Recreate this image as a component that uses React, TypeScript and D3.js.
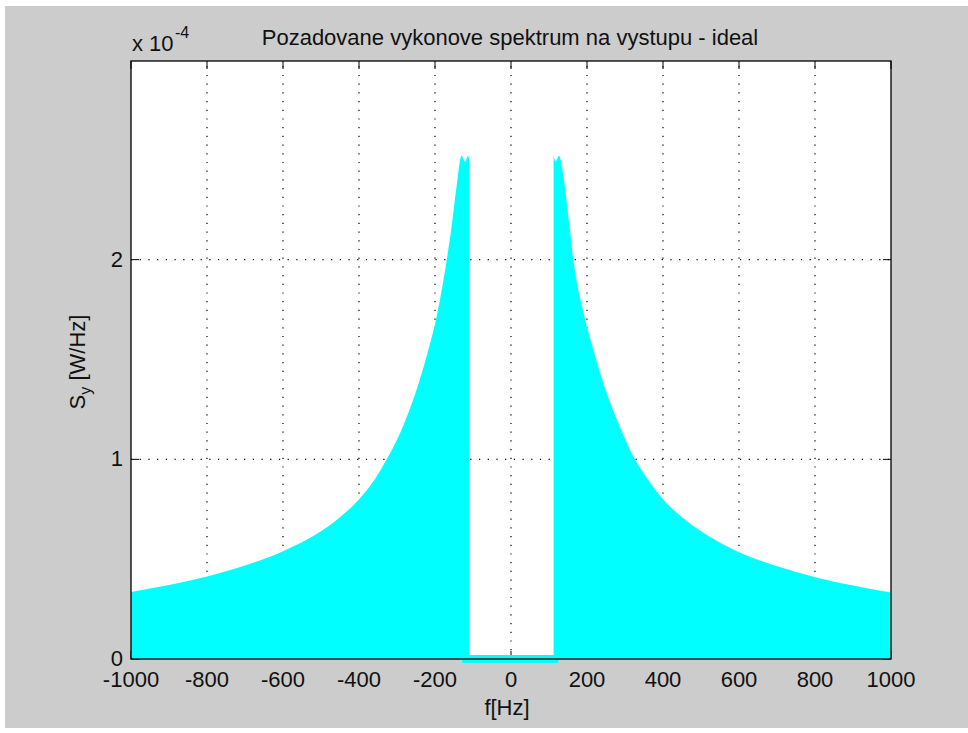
import React from 'react';
import * as d3 from 'd3';

// spectrum (values in units of 1e-4 W/Hz)
const fLeft = [-1000, -900, -800, -700, -600, -500, -450, -400, -360, -330, -290, -250, -220, -195, -169, -156, -143, -130, -121, -113, -110];
const sLeft = [0.336, 0.37, 0.413, 0.468, 0.54, 0.64, 0.71, 0.8, 0.895, 0.99, 1.14, 1.34, 1.53, 1.72, 2.0, 2.17, 2.37, 2.52, 2.49, 2.52, 2.5];
const fRight = [112, 118, 126, 140, 152, 164, 190, 215, 245, 285, 326, 360, 400, 450, 500, 600, 700, 800, 900, 1000];
const sRight = [2.52, 2.49, 2.52, 2.39, 2.2, 2.0, 1.74, 1.56, 1.37, 1.17, 1.0, 0.9, 0.8, 0.71, 0.64, 0.535, 0.465, 0.41, 0.368, 0.333];
// thin band around zero in the stop band
const stripF = [-129, 124];
const stripS = [-0.02, 0.02];

const xTicks = [-1000, -800, -600, -400, -200, 0, 200, 400, 600, 800, 1000];
const yTicks = [0, 1, 2];
const yMax = 2.995;

const title = 'Pozadovane vykonove spektrum na vystupu - ideal';
const xLabel = 'f[Hz]';

const W = 968;
const H = 733;
const plot = { left: 131, right: 891, top: 61, bottom: 659 };
const font = '"Liberation Sans", Arial, sans-serif';

const App = () => {
  const x = d3.scaleLinear().domain([-1000, 1000]).range([plot.left, plot.right]);
  const y = d3.scaleLinear().domain([0, yMax]).range([plot.bottom, plot.top]);

  const area = d3
    .area<[number, number]>()
    .x(d => x(d[0]))
    .y0(y(0))
    .y1(d => y(d[1]))
    .curve(d3.curveMonotoneX);

  const left: [number, number][] = fLeft.map((f, i) => [f, sLeft[i]]);
  const right: [number, number][] = fRight.map((f, i) => [f, sRight[i]]);

  const tick = 8;

  return (
    <div style={{ position: 'fixed', left: 0, top: 0 }}>
      <svg width={W} height={H} style={{ display: 'block' }}>
        <rect x={0} y={0} width={W} height={H} fill="#ffffff" />
        <rect x={5} y={6} width={W - 5} height={H - 11} fill="#cccccc" />

        {/* axes area */}
        <rect x={plot.left} y={plot.top} width={plot.right - plot.left} height={plot.bottom - plot.top} fill="#ffffff" />

        {/* grid, under the data */}
        <g stroke="#000" strokeWidth={1.2} strokeDasharray="1.2 7.5">
          {xTicks.slice(1, -1).map(t => (
            <line key={'gx' + t} x1={x(t)} x2={x(t)} y1={plot.bottom} y2={plot.top} />
          ))}
          {yTicks.slice(1).map(t => (
            <line key={'gy' + t} x1={plot.left} x2={plot.right} y1={y(t)} y2={y(t)} />
          ))}
        </g>

        {/* ticks */}
        <g stroke="#000" strokeWidth={1}>
          {xTicks.map(t => (
            <g key={'tx' + t}>
              <line x1={x(t)} x2={x(t)} y1={plot.bottom} y2={plot.bottom - tick} />
              <line x1={x(t)} x2={x(t)} y1={plot.top} y2={plot.top + tick} />
            </g>
          ))}
          {yTicks.map(t => (
            <g key={'ty' + t}>
              <line x1={plot.left} x2={plot.left + tick} y1={y(t)} y2={y(t)} />
              <line x1={plot.right} x2={plot.right - tick} y1={y(t)} y2={y(t)} />
            </g>
          ))}
        </g>

        {/* the spectrum */}
        <path d={area(left) ?? ''} fill="#00ffff" />
        <path d={area(right) ?? ''} fill="#00ffff" />
        <rect
          x={x(stripF[0])}
          y={y(stripS[1])}
          width={x(stripF[1]) - x(stripF[0])}
          height={y(stripS[0]) - y(stripS[1])}
          fill="#00ffff"
        />

        {/* box */}
        <rect
          x={plot.left}
          y={plot.top}
          width={plot.right - plot.left}
          height={plot.bottom - plot.top}
          fill="none"
          stroke="#000"
          strokeWidth={1.3}
        />

        {/* tick labels */}
        <g fontFamily={font} fontSize={22} fill="#111">
          {xTicks.map(t => (
            <text key={'lx' + t} x={x(t)} y={687} textAnchor="middle">
              {t < 0 ? '-' + Math.abs(t) : String(t)}
            </text>
          ))}
          {yTicks.map(t => (
            <text key={'ly' + t} x={123} y={y(t) + 7} textAnchor="end">
              {t}
            </text>
          ))}
          <text x={132} y={51}>x 10</text>
          <text x={175} y={38} fontSize={16}>-4</text>
        </g>

        {/* title and axis labels */}
        <g fontFamily={font} fontSize={22} fill="#111">
          <text x={510} y={44.5} textAnchor="middle">{title}</text>
          <text x={507} y={715} textAnchor="middle">{xLabel}</text>
          <text transform={`translate(85, 362) rotate(-90)`} textAnchor="middle">
            S<tspan fontSize={16} dy={6}>y</tspan>
            <tspan dy={-6}> [W/Hz]</tspan>
          </text>
        </g>
      </svg>
    </div>
  );
};

export default App;
